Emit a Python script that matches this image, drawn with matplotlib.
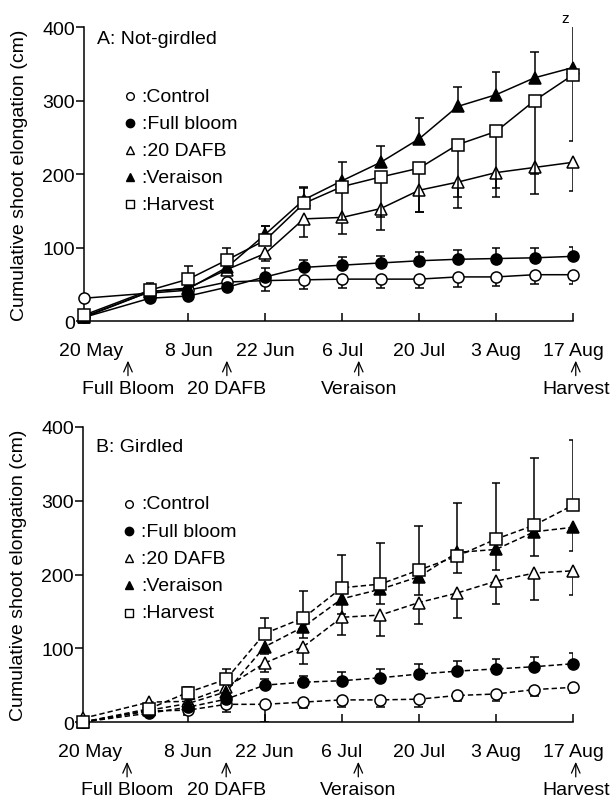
import matplotlib
matplotlib.use("Agg")
import matplotlib.pyplot as plt

plt.rcParams["font.family"] = ["Liberation Sans", "DejaVu Sans"]
FS = 14

# sampling days counted from 20 May
days = [0, 12, 19, 26, 33, 40, 47, 54, 61, 68, 75, 82, 89]
tick_days = [0, 19, 33, 47, 61, 75, 89]
tick_labels = ["20 May", "8 Jun", "22 Jun", "6 Jul", "20 Jul", "3 Aug", "17 Aug"]
stage_days = [8, 26, 50, 89.5]
stage_labels = ["Full Bloom", "20 DAFB", "Veraison", "Harvest"]

names = ["Control", "Full bloom", "20 DAFB", "Veraison", "Harvest"]

# A: not girdled
a_control = [31, 38, 42, 53, 55, 56, 57, 57, 57, 60, 60, 63, 63]
a_control_dn = [0, 4, 5, 6, 14, 12, 12, 12, 12, 14, 12, 13, 13]
a_bloom = [5, 31, 34, 46, 60, 73, 76, 79, 82, 84, 85, 86, 88]
a_bloom_up = [0, 4, 4, 5, 12, 10, 11, 10, 12, 13, 14, 14, 13]
a_dafb = [6, 40, 45, 70, 92, 139, 141, 153, 178, 189, 202, 209, 216]
a_dafb_dn = [0, 4, 5, 8, 10, 25, 23, 29, 30, 35, 33, 36, 39]
a_ver = [5, 40, 44, 73, 118, 165, 191, 216, 248, 292, 308, 331, 345]
a_ver_up = [0, 4, 4, 6, 11, 17, 25, 22, 28, 27, 31, 35, 77]
a_harv = [8, 42, 57, 83, 110, 160, 183, 196, 208, 240, 258, 300, 335]
a_harv_up = [0, 10, 18, 17, 19, 21, 0, 0, 0, 0, 0, 0, 0]
a_harv_dn = [0, 0, 0, 0, 0, 0, 45, 55, 60, 71, 77, 100, 90]

# B: girdled
b_control = [0, 15, 16, 24, 24, 27, 30, 30, 31, 36, 38, 44, 47]
b_control_dn = [0, 4, 6, 10, 24, 8, 10, 10, 10, 8, 9, 9, 8]
b_bloom = [0, 12, 20, 31, 50, 54, 56, 60, 65, 69, 72, 75, 79]
b_bloom_up = [0, 4, 5, 6, 9, 9, 12, 12, 14, 14, 14, 13, 14]
b_dafb = [5, 27, 28, 47, 80, 102, 142, 145, 162, 175, 191, 202, 205]
b_dafb_dn = [0, 4, 5, 8, 12, 23, 24, 28, 29, 34, 31, 37, 33]
b_ver = [0, 16, 25, 41, 102, 129, 167, 180, 197, 230, 234, 258, 264]
b_ver_dn = [0, 4, 5, 6, 10, 15, 20, 20, 25, 28, 28, 33, 32]
b_harv = [0, 18, 40, 58, 120, 141, 182, 187, 206, 225, 248, 267, 294]
b_harv_up = [0, 5, 8, 14, 21, 37, 44, 56, 60, 72, 76, 91, 88]

markers = ["o", "o", "^", "^", "s"]
faces = ["white", "black", "white", "black", "white"]
msizes = [8, 8, 8.5, 8.5, 8]
leg_sizes = [5.5, 6, 6, 6, 6]
LW = 1.1
CAP = 0.8


def draw_panel(ax, series, ls, title, leg_top):
    for i, (y, up, dn) in enumerate(series):
        z = 3 + i
        ax.plot(days, y, color="black", lw=LW, ls=ls, zorder=z, clip_on=False)
        for x, v, u, d in zip(days, y, up or [0] * len(y), dn or [0] * len(y)):
            if u > 0:
                ax.vlines(x, v, v + u, color="black", lw=LW, zorder=z)
                ax.hlines(v + u, x - CAP, x + CAP, color="black", lw=LW, zorder=z)
            if d > 0:
                ax.vlines(x, v - d, v, color="black", lw=LW, zorder=z)
                ax.hlines(v - d, x - CAP, x + CAP, color="black", lw=LW, zorder=z)
        ax.plot(days, y, ls="none", marker=markers[i], ms=msizes[i],
                mfc=faces[i], mec="black", mew=1.1, zorder=z + 0.5, clip_on=False)

    ax.set_xlim(0, 89)
    ax.set_ylim(0, 400)
    ax.set_yticks([0, 100, 200, 300, 400])
    # first date is drawn separately, nudged right of the axis corner
    ax.set_xticks(tick_days, [""] + tick_labels[1:])
    trans = ax.get_xaxis_transform()
    ax.annotate(tick_labels[0], xy=(tick_days[0], 0), xycoords=trans,
                xytext=(5, -15), textcoords="offset points",
                ha="center", va="top", fontsize=FS)
    for s in ("top", "right"):
        ax.spines[s].set_visible(False)
    for s in ("left", "bottom"):
        ax.spines[s].set_linewidth(LW)
    ax.tick_params(axis="x", direction="in", length=6, width=LW, pad=15, labelsize=FS)
    ax.tick_params(axis="y", direction="out", length=5.5, width=LW, pad=1, labelsize=FS)
    ax.set_ylabel("Cumulative shoot elongation (cm)", fontsize=FS)
    ax.yaxis.set_label_coords(-0.115, 0.5)

    ax.text(0.027, leg_top + 0.195, title, transform=ax.transAxes,
            fontsize=FS, va="center", ha="left")

    for i, name in enumerate(names):
        yy = leg_top - i * 0.092
        ax.plot([0.094], [yy], marker=markers[i], ms=leg_sizes[i], mfc=faces[i],
                mec="black", mew=1.0, transform=ax.transAxes, ls="none")
        ax.text(0.118, yy, ":" + name, transform=ax.transAxes,
                fontsize=FS, va="center", ha="left")

    for d, lab in zip(stage_days, stage_labels):
        ax.annotate(lab, xy=(d, -0.135), xycoords=trans,
                    xytext=(d, -0.2), textcoords=trans,
                    ha="center", va="top", fontsize=FS, annotation_clip=False,
                    arrowprops=dict(arrowstyle="->,head_length=0.5,head_width=0.22",
                                    lw=0.9, color="black", shrinkA=1, shrinkB=0))


fig = plt.figure(figsize=(6.16, 8.03), dpi=100)
ax_a = fig.add_axes([0.1364, 0.599, 0.7938, 0.366])
ax_b = fig.add_axes([0.1348, 0.0996, 0.7954, 0.3674])

draw_panel(ax_a,
           [(a_control, None, a_control_dn), (a_bloom, a_bloom_up, None),
            (a_dafb, None, a_dafb_dn), (a_ver, a_ver_up, None),
            (a_harv, a_harv_up, a_harv_dn)],
           "-", "A: Not-girdled", 0.765)
ax_a.text(87.6, 412, "z", fontsize=11, ha="center", va="center")

draw_panel(ax_b,
           [(b_control, None, b_control_dn), (b_bloom, b_bloom_up, None),
            (b_dafb, None, b_dafb_dn), (b_ver, None, b_ver_dn),
            (b_harv, b_harv_up, None)],
           (0, (3.5, 2)), "B: Girdled", 0.739)

fig.savefig("out.png", dpi=100)
